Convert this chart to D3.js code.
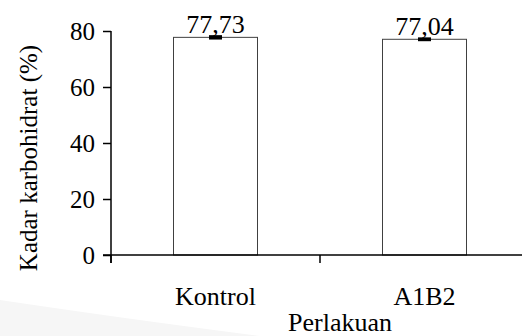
<!DOCTYPE html>
<html><head><meta charset="utf-8">
<script src="https://cdn.jsdelivr.net/npm/d3@7"></script>
<style>
body { margin: 0; background: #fff; }
svg text { font-family: "Liberation Serif", Tinos, serif !important; font-size: 25px; }
svg text.big { font-size: 26px; }
</style>
</head><body>
<svg id="c" width="522" height="336"></svg>
<script>
const categories = ["Kontrol", "A1B2"];
const values = [77.73, 77.04];
const errors = [0.5, 0.4];
const labels = ["77,73", "77,04"];
const yTicks = [0, 20, 40, 60, 80];

const svg = d3.select("#c");
// faint background swoosh
svg.append("path").attr("d","M0,300 Q120,318 260,336 L0,336 Z").attr("fill","#f6f6f6");

const xb = d3.scaleBand().domain(categories).range([111, 529]);
const y = d3.scaleLinear().domain([0, 80]).range([255, 31]);

// bars
svg.selectAll("rect.bar").data(values).join("rect")
  .attr("x", (d,i)=>xb(categories[i]) + xb.bandwidth()/2 - 42)
  .attr("width", 84)
  .attr("y", d=>y(d)).attr("height", d=>y(0)-y(d))
  .attr("fill","#fff").attr("stroke","#404040").attr("stroke-width",1);

// error bars and value labels
values.forEach((v,i)=>{
  const cx = xb(categories[i]) + xb.bandwidth()/2;
  svg.append("line").attr("x1",cx).attr("x2",cx).attr("y1",y(v+errors[i])).attr("y2",y(v-errors[i]))
    .attr("stroke","#000").attr("stroke-width",1.5);
  svg.append("rect").attr("x",cx-6.5).attr("width",13).attr("y",y(v+errors[i])-0.8)
    .attr("height",y(v-errors[i])-y(v+errors[i])+1.6).attr("fill","#000");
  svg.append("text").attr("class","big").attr("x",cx).attr("y",y(v)-4.5).attr("text-anchor","middle").text(labels[i]);
});

// y axis
const ya = svg.append("g").attr("transform","translate(111,0)")
  .call(d3.axisLeft(y).tickValues(yTicks).tickSize(8).tickPadding(8).tickFormat(d3.format("d")));
ya.attr("font-family", null).attr("font-size", null);
ya.select(".domain").attr("d","M0,31V263").attr("stroke","#000").attr("stroke-width",1.5);
ya.selectAll(".tick line").attr("stroke","#000").attr("stroke-width",1.5);
ya.selectAll(".tick text").attr("fill","#000").attr("dy","0.34em");

// x axis
const xa = svg.append("g").attr("transform","translate(0,255)")
  .call(d3.axisBottom(xb).tickSize(0).tickPadding(0).tickFormat(""));
xa.attr("font-family", null).attr("font-size", null);
xa.select(".domain").attr("d","M103,0H529").attr("stroke","#000").attr("stroke-width",1.5);
xa.selectAll(".tick").remove();
const bounds = [xb(categories[0]), xb(categories[1]), xb(categories[1]) + xb.bandwidth()];
xa.selectAll("line.sep").data(bounds).join("line").attr("x1",d=>d).attr("x2",d=>d).attr("y1",0).attr("y2",8)
  .attr("stroke","#000").attr("stroke-width",1.5);
xa.selectAll("text.cat").data(categories).join("text")
  .attr("class","big")
  .attr("x",d=>xb(d)+xb.bandwidth()/2).attr("y",50).attr("text-anchor","middle").attr("fill","#000").text(d=>d);

// axis titles
svg.append("text").attr("class","big").attr("x",340).attr("y",331).attr("text-anchor","middle").text("Perlakuan");
svg.append("text").attr("transform","translate(37,158) rotate(-90)").attr("text-anchor","middle").text("Kadar karbohidrat (%)");
</script>
</body></html>
